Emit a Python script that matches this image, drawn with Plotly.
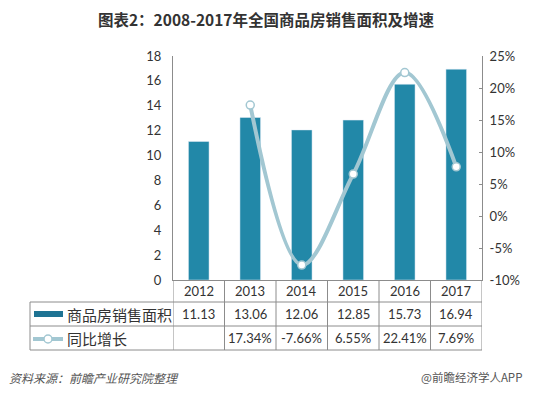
import plotly.graph_objects as go

years = ["2012", "2013", "2014", "2015", "2016", "2017"]
area = [11.13, 13.06, 12.06, 12.85, 15.73, 16.94]
growth = [None, 17.34, -7.66, 6.55, 22.41, 7.69]
area_name = "商品房销售面积"
growth_name = "同比增长"
title_text = "图表2：2008-2017年全国商品房销售面积及增速"
source_text = "资料来源：前瞻产业研究院整理"
credit_text = "@前瞻经济学人APP"
left_ticks = list(range(0, 19, 2))
right_ticks = list(range(-10, 26, 5))

BAR = "#2288A8"
LINE = "#A2C7D2"
GRID = "#8c8c8c"
TXT = "#333333"
FONT = "Lato, 'Noto Sans CJK SC', sans-serif"
CJK = "'Noto Sans CJK SC', sans-serif"

# page body has an 8px margin: shrink the figure and shift coordinates
OFF = 8
W, H = 536 - OFF, 395 - OFF
L, R, T, B = 173, 482, 56, 280  # reference-pixel plot box


def py(px):  # reference pixel y -> paper y
    return (B - px) / (B - T)


def pxp(px):  # reference pixel x -> paper x
    return (px - L) / (R - L)


fig = go.Figure()
fig.add_trace(go.Bar(x=years, y=area, name=area_name, marker_color=BAR,
                     width=0.4, yaxis="y"))
fig.add_trace(go.Scatter(x=years, y=growth, name=growth_name, yaxis="y2",
                         mode="lines+markers",
                         line=dict(color=LINE, width=4, shape="spline", smoothing=1.0),
                         marker=dict(size=8, color="white",
                                     line=dict(color=LINE, width=1.5))))

shapes = []
annotations = []
row_lines = [302, 326, 350]
n = len(years)
for yl in row_lines:
    shapes.append(dict(type="line", xref="paper", yref="paper",
                       x0=pxp(30), x1=1, y0=py(yl), y1=py(yl),
                       line=dict(color=GRID, width=1)))
for i in range(n + 1):
    shapes.append(dict(type="line", xref="x", yref="paper",
                       x0=i - 0.5, x1=i - 0.5, y0=0, y1=py(350),
                       line=dict(color=GRID, width=1)))
shapes.append(dict(type="line", xref="paper", yref="paper",
                   x0=pxp(30), x1=pxp(30), y0=py(302), y1=py(350),
                   line=dict(color=GRID, width=1)))
shapes.append(dict(type="rect", xref="paper", yref="paper",
                   x0=pxp(34), x1=pxp(63), y0=py(311), y1=py(317),
                   fillcolor="#1E7393", line=dict(width=0)))
shapes.append(dict(type="line", xref="paper", yref="paper",
                   x0=pxp(33), x1=pxp(63), y0=py(339), y1=py(339),
                   line=dict(color=LINE, width=4)))
shapes.append(dict(type="circle", xref="paper", yref="paper",
                   x0=pxp(44), x1=pxp(52), y0=py(335), y1=py(343),
                   fillcolor="white", line=dict(color=LINE, width=1.5)))

annotations.append(dict(text=area_name, xref="paper", yref="paper",
                        x=pxp(65), y=py(314), xanchor="left", yanchor="middle",
                        showarrow=False, font=dict(family=CJK, size=15, color=TXT)))
annotations.append(dict(text=growth_name, xref="paper", yref="paper",
                        x=pxp(65), y=py(338), xanchor="left", yanchor="middle",
                        showarrow=False, font=dict(family=CJK, size=15, color=TXT)))
for i, yr in enumerate(years):
    annotations.append(dict(text=yr, xref="x", yref="paper", x=i, y=py(291),
                            showarrow=False, yanchor="middle",
                            font=dict(family=FONT, size=13, color=TXT)))
    annotations.append(dict(text=f"{area[i]:.2f}", xref="x", yref="paper", x=i,
                            y=py(314), showarrow=False, yanchor="middle",
                            font=dict(family=FONT, size=13, color=TXT)))
    if growth[i] is not None:
        annotations.append(dict(text=f"{growth[i]:.2f}%", xref="x", yref="paper",
                                x=i, y=py(338), showarrow=False, yanchor="middle",
                                font=dict(family=FONT, size=13, color=TXT)))

annotations.append(dict(text=f"<i>{source_text}</i>", xref="paper", yref="paper",
                        x=pxp(7), y=py(377), xanchor="left", yanchor="middle",
                        showarrow=False, font=dict(family=CJK, size=12, color="#555555")))
annotations.append(dict(text=credit_text, xref="paper", yref="paper",
                        x=pxp(524), y=py(377), xanchor="right", yanchor="middle",
                        showarrow=False, font=dict(family=CJK, size=11.5, color="#555555")))

fig.update_layout(
    width=W, height=H,
    margin=dict(l=L - OFF, r=W - (R - OFF), t=T - OFF, b=H - (B - OFF), pad=0),
    paper_bgcolor="white", plot_bgcolor="white",
    showlegend=False,
    title=dict(text=f"<b>{title_text}</b>", x=(266 - OFF) / W, xanchor="center",
               y=1 - (21 - OFF) / H, yanchor="middle",
               font=dict(family=CJK, size=15.5, color="#333333")),
    xaxis=dict(type="category", range=[-0.5, n - 0.5], showticklabels=False,
               showline=True, linecolor=GRID, linewidth=1, ticks="",
               showgrid=False, zeroline=False),
    yaxis=dict(range=[0, 18], tickvals=left_ticks, showline=True, linecolor=GRID,
               linewidth=1, showgrid=False, zeroline=False, ticks="",
               ticklabelstandoff=8,
               tickfont=dict(family=FONT, size=13, color=TXT)),
    yaxis2=dict(range=[-10, 25], tickvals=right_ticks,
                ticktext=[f"{v}%" for v in right_ticks], overlaying="y",
                side="right", showline=True, linecolor=GRID, linewidth=1,
                showgrid=False, zeroline=False, ticks="inside", ticklen=3,
                tickcolor=GRID, ticklabelstandoff=4,
                tickfont=dict(family=FONT, size=13, color=TXT)),
    bargap=0.6,
    shapes=shapes, annotations=annotations,
)

fig.write_html("out.html")
